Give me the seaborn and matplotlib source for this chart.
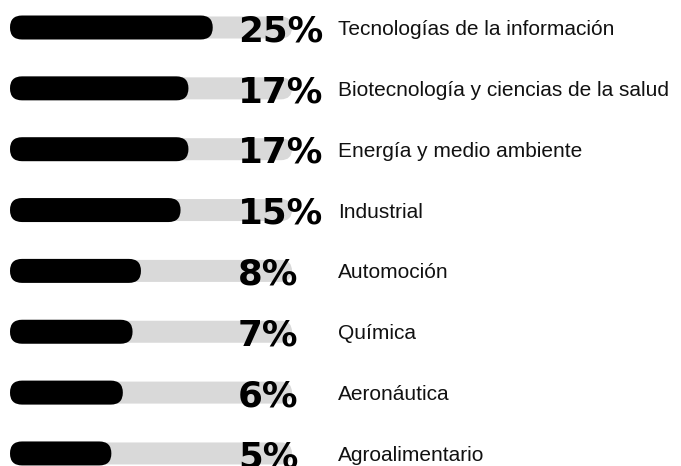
import matplotlib
matplotlib.use("Agg")
import matplotlib.pyplot as plt
import pandas as pd
import seaborn as sns
from matplotlib.patches import FancyBboxPatch
from matplotlib.transforms import (IdentityTransform, ScaledTranslation,
                                   blended_transform_factory)

# Sector shares
sectors = [
    "Tecnologías de la información",
    "Biotecnología y ciencias de la salud",
    "Energía y medio ambiente",
    "Industrial",
    "Automoción",
    "Química",
    "Aeronáutica",
    "Agroalimentario",
]
shares = [25, 17, 17, 15, 8, 7, 6, 5]
share_labels = [f"{v}%" for v in shares]

W, H, DPI = 681, 466, 100
sns.set_theme(style="white")

fig = plt.figure(figsize=(W / DPI, H / DPI), dpi=DPI)
fig.patch.set_facecolor("white")

# Geometry of the bar area, in pixels
bar_left, bar_right = 10, 292
row_top, row_step = 27.5, 60.85
track_h, bar_h = 22, 24

ax = fig.add_axes([bar_left / W, 0, (bar_right - bar_left) / W, 1])
ax.set_xscale("log")
x_lo, x_hi = 1, 88

df = pd.DataFrame({"sector": sectors, "share": shares,
                   "track": [x_hi] * len(sectors)})

# Background tracks, then the share bars on top
sns.barplot(data=df, x="track", y="sector", color="#d9d9d9",
            saturation=1, width=track_h / row_step, ax=ax)
sns.barplot(data=df, x="share", y="sector", color="black",
            saturation=1, width=bar_h / row_step, ax=ax)

ax.set_xlim(x_lo, x_hi)
ax.set_ylim((H - row_top) / row_step, -row_top / row_step)
ax.set_axis_off()

# Replace the square bars with pill-shaped ones (kept below the labels)
for k, p in enumerate(list(ax.patches)):
    x0 = max(p.get_x(), x_lo)
    x1 = p.get_x() + p.get_width()
    y0 = p.get_y()
    y1 = y0 + p.get_height()
    (a0, b0), (a1, b1) = ax.transData.transform([(x0, y0), (x1, y1)])
    px, py = min(a0, a1), min(b0, b1)
    pw, ph = abs(a1 - a0), abs(b1 - b0)
    pill = FancyBboxPatch((px, py), pw, ph,
                          boxstyle=f"round,pad=0,rounding_size={ph / 2}",
                          transform=IdentityTransform(),
                          facecolor=p.get_facecolor(), edgecolor="none",
                          zorder=1 + k * 0.001, clip_on=False)
    p.remove()
    ax.add_artist(pill)

# Labels: big bold percentages and sector names
pct_size = 25.7
name_size = 15
fig_x_data_y = blended_transform_factory(fig.transFigure, ax.transData)
pct_tr = fig_x_data_y + ScaledTranslation(0, -(0.3645 * pct_size + 0.5) / 72,
                                          fig.dpi_scale_trans)
name_tr = fig_x_data_y + ScaledTranslation(0, -0.358 * name_size / 72,
                                           fig.dpi_scale_trans)

for i, (lab, name) in enumerate(zip(share_labels, sectors)):
    ax.text(238 / W, i, lab, transform=pct_tr, ha="left", va="baseline",
            fontsize=pct_size, fontweight="bold", family="DejaVu Sans",
            color="black", clip_on=False, zorder=5)
    ax.text(338 / W, i, name, transform=name_tr, ha="left", va="baseline",
            fontsize=name_size, family="Liberation Sans",
            color="#111111", clip_on=False, zorder=5)

fig.savefig("out.png", dpi=DPI, facecolor="white")
